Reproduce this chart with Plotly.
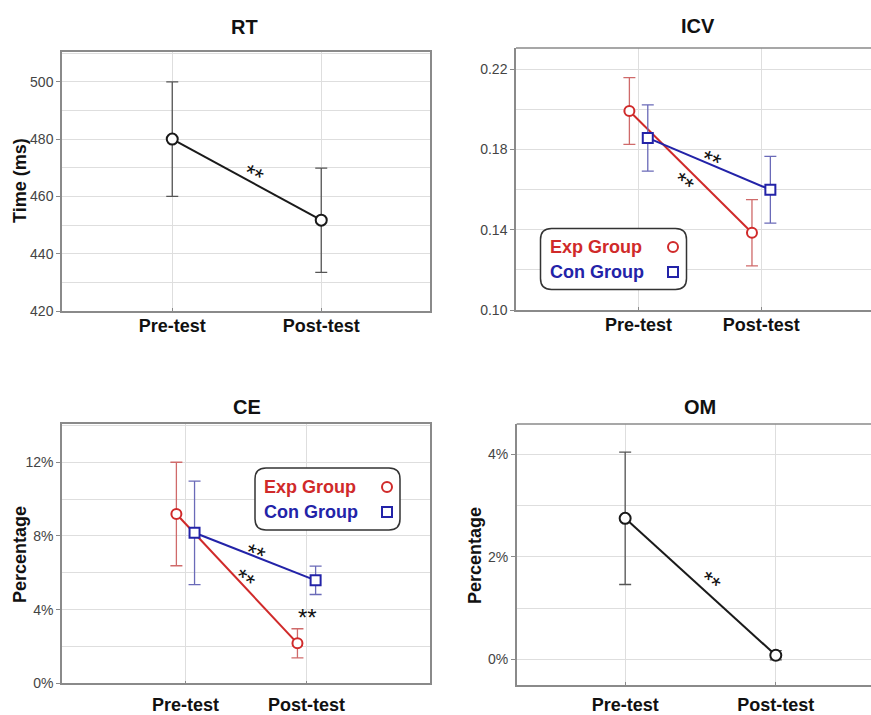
import numpy as np
import plotly.graph_objects as go

W, H = 871, 715

# ---------------- data ----------------
phases = ["Pre-test", "Post-test"]

rt_mean = [480.0, 451.7]
rt_err = [20.0, 18.2]

icv_exp_mean = [0.1991, 0.1385]
icv_exp_err = [0.0166, 0.0165]
icv_con_mean = [0.1857, 0.1599]
icv_con_err = [0.0165, 0.0166]

ce_exp_mean = [0.0919, 0.0217]
ce_exp_err = [0.0281, 0.0079]
ce_con_mean = [0.0817, 0.0559]
ce_con_err = [0.0281, 0.0077]

om_mean = [0.0275, 0.0008]
om_err = [0.0129, 0.0009]

group_names = ["Exp Group", "Con Group"]

# ---------------- styles ----------------
RED = "#d02a2a"
RED_LIGHT = "#cf6a6a"
BLUE = "#2323a8"
BLUE_LIGHT = "#6a6ab8"
BLACK = "#1a1a1a"
GRID = "#dedede"
AXIS = "#8a8a8a"
FONT = "Liberation Sans, Arial, sans-serif"

def px_x(p):
    return p / W

def px_y(p):
    return 1 - p / H

fig = go.Figure()
idx = np.arange(len(phases))
off = 0.075


def add_series(xref, yref, xs, mean, err, color, ecolor, symbol, size):
    fig.add_trace(go.Scatter(
        x=xs, y=mean, xaxis=xref, yaxis=yref, mode="lines+markers",
        line=dict(color=color, width=2),
        marker=dict(symbol=symbol, size=size, color="white",
                    line=dict(color=color, width=2)),
        error_y=dict(type="data", array=err, color=ecolor, thickness=1.3, width=6),
        showlegend=False, hoverinfo="skip"))


# RT
add_series("x", "y", idx, rt_mean, rt_err, BLACK, "#555555", "circle", 11)
# ICV
add_series("x2", "y2", idx - off, icv_exp_mean, icv_exp_err, RED, RED_LIGHT, "circle", 10)
add_series("x2", "y2", idx + off, icv_con_mean, icv_con_err, BLUE, BLUE_LIGHT, "square", 10)
# CE
add_series("x3", "y3", idx - off, ce_exp_mean, ce_exp_err, RED, RED_LIGHT, "circle", 10)
add_series("x3", "y3", idx + off, ce_con_mean, ce_con_err, BLUE, BLUE_LIGHT, "square", 10)
# OM
add_series("x4", "y4", idx, om_mean, om_err, BLACK, "#555555", "circle", 11)


def xax(domain, rng, standoff):
    return dict(domain=domain, range=rng, tickmode="array", tickvals=list(idx),
                ticktext=phases, showgrid=True, gridcolor=GRID, gridwidth=1,
                zeroline=False, showline=True, linecolor=AXIS, linewidth=1.5,
                mirror=True, ticks="inside", ticklen=3, tickcolor=AXIS,
                ticklabelstandoff=standoff, automargin=False,
                tickfont=dict(family=FONT, size=18, color="#111111", weight="bold"),
                fixedrange=True)


def yax(domain, rng, tick0, dtick, minor, fmt, anchor, right_border=True):
    return dict(domain=domain, range=rng, tick0=tick0, dtick=dtick, tickformat=fmt,
                showgrid=True, gridcolor=GRID, gridwidth=1,
                minor=dict(tick0=tick0, dtick=minor, showgrid=True, gridcolor=GRID, gridwidth=1),
                zeroline=False, showline=True, linecolor=AXIS, linewidth=1.5,
                mirror=right_border, ticks="outside", ticklen=4, tickcolor=AXIS,
                tickfont=dict(family=FONT, size=14, color="#444444"),
                anchor=anchor, automargin=False, fixedrange=True)


fig.update_layout(
    width=W, height=H, margin=dict(l=0, r=0, t=0, b=0, autoexpand=False),
    paper_bgcolor="white", plot_bgcolor="white",
    font=dict(family=FONT),
    xaxis=xax([px_x(62), px_x(430)], [-0.74, 1.73], -2) | dict(anchor="y"),
    yaxis=yax([px_y(311), px_y(52)], [420, 510.4], 420, 20, 10, "d", "x"),
    xaxis2=xax([px_x(516), 1.0], [-1.0, 1.896], -2) | dict(anchor="y2", mirror=False),
    yaxis2=yax([px_y(310), px_y(48)], [0.10, 0.2305], 0.10, 0.04, 0.02, ".2f", "x2", False),
    xaxis3=xax([px_x(62), px_x(430)], [-1.02, 2.02], 4) | dict(anchor="y3"),
    yaxis3=yax([px_y(683.3), px_y(424.3)], [0, 0.1406], 0, 0.04, 0.02, ".0%", "x3"),
    xaxis4=xax([px_x(516.7), 1.0], [-0.72, 1.632], 3) | dict(anchor="y4", mirror=False),
    yaxis4=yax([px_y(685), px_y(424)], [-0.005, 0.0459], 0, 0.02, 0.01, ".0%", "x4", False),
)

# top border lines for clipped right-hand panels
for xr_dom, ytop in [((px_x(516), 1.0), px_y(48)), ((px_x(516.7), 1.0), px_y(424))]:
    fig.add_shape(type="line", xref="paper", yref="paper", x0=xr_dom[0], x1=xr_dom[1],
                  y0=ytop, y1=ytop, line=dict(color=AXIS, width=1.5))

ann = []
# panel titles
for txt, x, y in [("RT", 245, 27), ("ICV", 698, 26), ("CE", 247, 407), ("OM", 700, 407)]:
    ann.append(dict(text=txt, x=px_x(x), y=px_y(y), xref="paper", yref="paper",
                    xanchor="center", yanchor="middle", showarrow=False,
                    font=dict(family=FONT, size=20, color="#111111", weight="bold")))
# y titles
for txt, x, y in [("Time (ms)", 20, 181), ("Percentage", 20, 555), ("Percentage", 475, 555)]:
    ann.append(dict(text=txt, x=px_x(x), y=px_y(y), xref="paper", yref="paper",
                    xanchor="center", yanchor="middle", textangle=-90, showarrow=False,
                    font=dict(family=FONT, size=18, color="#111111", weight="bold")))

# significance stars
stars = [
    ("x", "y", 0.544, 468.6, 27),
    ("x2", "y2", 0.598, 0.1762, 23),
    ("x2", "y2", 0.364, 0.1648, 38),
    ("x3", "y3", 0.575, 0.0723, 21),
    ("x3", "y3", 0.49, 0.0579, 35),
    ("x3", "y3", 1.005, 0.0371, 0),
    ("x4", "y4", 0.564, 0.0158, 38),
]
for xr, yr, x, y, ang in stars:
    ann.append(dict(text="**", x=x, y=y, xref=xr, yref=yr, showarrow=False,
                    xanchor="center", yanchor="middle", textangle=ang, yshift=-3,
                    font=dict(family=FONT, size=24, color="#111111")))


def legend_box(x0, y0, x1, y1, rows_y, text_x, marker_x):
    r = 11
    X = lambda p: px_x(p)
    Y = lambda p: px_y(p)
    path = (f"M {X(x0 + r)},{Y(y0)} L {X(x1 - r)},{Y(y0)} Q {X(x1)},{Y(y0)} {X(x1)},{Y(y0 + r)} "
            f"L {X(x1)},{Y(y1 - r)} Q {X(x1)},{Y(y1)} {X(x1 - r)},{Y(y1)} "
            f"L {X(x0 + r)},{Y(y1)} Q {X(x0)},{Y(y1)} {X(x0)},{Y(y1 - r)} "
            f"L {X(x0)},{Y(y0 + r)} Q {X(x0)},{Y(y0)} {X(x0 + r)},{Y(y0)} Z")
    fig.add_shape(type="path", path=path, xref="paper", yref="paper",
                  fillcolor="white", line=dict(color="#333333", width=1.5))
    for name, ry, col, kind in zip(group_names, rows_y, [RED, BLUE], ["circle", "rect"]):
        ann.append(dict(text=name, x=px_x(text_x), y=px_y(ry), xref="paper", yref="paper",
                        xanchor="left", yanchor="middle", showarrow=False,
                        font=dict(family=FONT, size=18, color=col, weight="bold")))
        fig.add_shape(type=kind, xref="paper", yref="paper", xsizemode="pixel",
                      ysizemode="pixel", xanchor=px_x(marker_x), yanchor=px_y(ry),
                      x0=-5, x1=5, y0=-5, y1=5, line=dict(color=col, width=2))


legend_box(540.5, 228.5, 686.5, 289.5, [247, 272], 548, 673)
legend_box(255, 468, 400, 530, [487, 512], 262, 387)

fig.update_layout(annotations=ann)
fig.write_html("out.html", config={"displayModeBar": False},
               post_script="document.body.style.margin='0';document.body.style.overflow='hidden';")
